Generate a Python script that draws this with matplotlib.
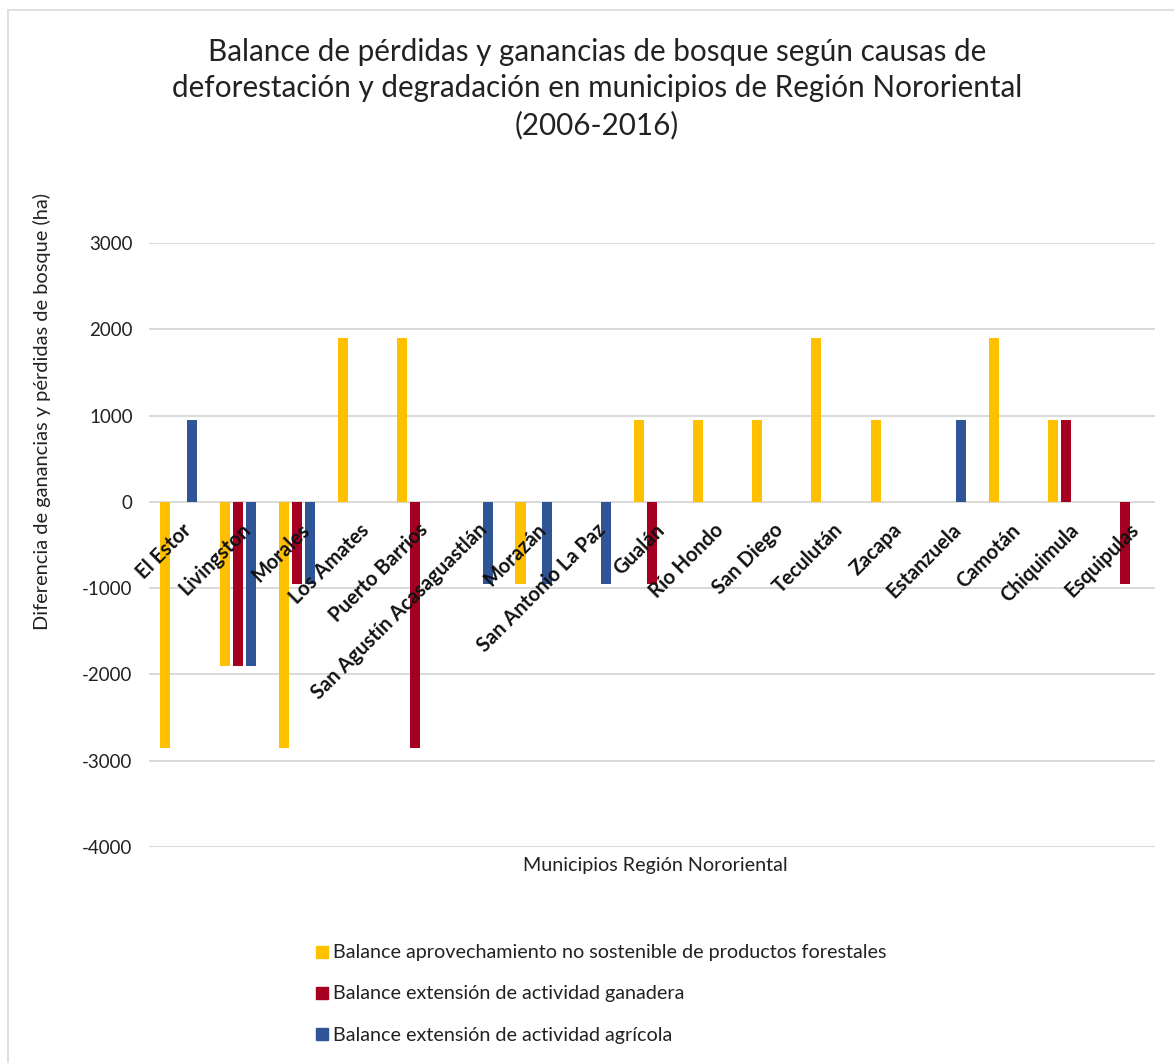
import matplotlib
matplotlib.use("Agg")
import matplotlib.pyplot as plt
import numpy as np
from matplotlib.lines import Line2D

municipios = ["El Estor", "Livingston", "Morales", "Los Amates", "Puerto Barrios",
              "San Agustín Acasaguastlán", "Morazán", "San Antonio La Paz", "Gualán",
              "Río Hondo", "San Diego", "Teculután", "Zacapa", "Estanzuela", "Camotán",
              "Chiquimula", "Esquipulas"]
forestal = [-2850, -1900, -2850, 1900, 1900, 0, -950, 0, 950, 950, 950, 1900, 950, 0, 1900, 950, 0]
ganadera = [0, -1900, -950, 0, -2850, 0, 0, 0, -950, 0, 0, 0, 0, 0, 0, 950, -950]
agricola = [950, -1900, -950, 0, 0, -950, -950, -950, 0, 0, 0, 0, 0, 950, 0, 0, 0]
series_names = ["Balance aprovechamiento no sostenible de productos forestales",
                "Balance extensión de actividad ganadera",
                "Balance extensión de actividad agrícola"]
yticks = [-4000, -3000, -2000, -1000, 0, 1000, 2000, 3000]

colors = ["#FFC000", "#A50021", "#2F5597"]
FONT = ["Lato", "DejaVu Sans"]
plt.rcParams['font.family'] = FONT
TXT = "#222222"

W, H = 1174, 1063
fig = plt.figure(figsize=(W / 100, H / 100), dpi=100)
ax = fig.add_axes([149 / W, 1 - 847 / H, (1155 - 149) / W, (847 - 243) / H])

x = np.arange(len(municipios))
bw = 0.17
step = 0.222
for k, vals in enumerate([forestal, ganadera, agricola]):
    ax.bar(x + (k - 1) * step, vals, width=bw, color=colors[k], zorder=3, label=series_names[k])

ax.set_xlim(-0.5, len(municipios) - 0.5)
ax.set_ylim(-4000, 3000)
ax.set_yticks(yticks)
ax.set_yticklabels([str(v) for v in yticks], fontsize=13.5, color=TXT)
ax.tick_params(axis='y', length=0, pad=11.8)
ax.set_xticks([])
for s in ax.spines.values():
    s.set_visible(False)
ax.grid(axis='y', color="#d9d9d9", linewidth=1.4, zorder=0)

for i, name in enumerate(municipios):
    ax.annotate(name, xy=(i, 0), xycoords='data', xytext=(2, -13), textcoords='offset points',
                rotation=45, ha='right', va='top', rotation_mode='anchor',
                fontsize=14.5, fontweight='bold', color="#111111", zorder=5)

fig.text(42 / W, 1 - 412 / H, "Diferencia de ganancias y pérdidas de bosque (ha)", rotation=90,
         ha='center', va='center', fontsize=14.4, color=TXT)
fig.text(655 / W, 1 - 866 / H, "Municipios Región Nororiental", ha='center', va='center',
         fontsize=14.2, color=TXT)

fig.text(597 / W, 1 - 88.5 / H,
         "Balance de pérdidas y ganancias de bosque según causas de\n"
         "deforestación y degradación en municipios de Región Nororiental\n"
         "(2006-2016)", ha='center', va='center', fontsize=21.3, color=TXT, linespacing=1.37)

handles = [Line2D([], [], marker='s', linestyle='none', markersize=9, color=c) for c in colors]
leg = fig.legend(handles, series_names, loc='center', bbox_to_anchor=(600 / W, 1 - 994 / H),
                 ncol=1, frameon=False, fontsize=14.2, handletextpad=0.1, labelspacing=1.22,
                 handlelength=0.9, alignment='left')
for t in leg.get_texts():
    t.set_color(TXT)

fig.add_artist(Line2D([8 / W, 1], [1 - 10 / H, 1 - 10 / H], transform=fig.transFigure, color="#d9d9d9", linewidth=1.2))
fig.add_artist(Line2D([8 / W, 8 / W], [1 - 10 / H, 0], transform=fig.transFigure, color="#d9d9d9", linewidth=1.2))

fig.savefig("out.png", dpi=100)
